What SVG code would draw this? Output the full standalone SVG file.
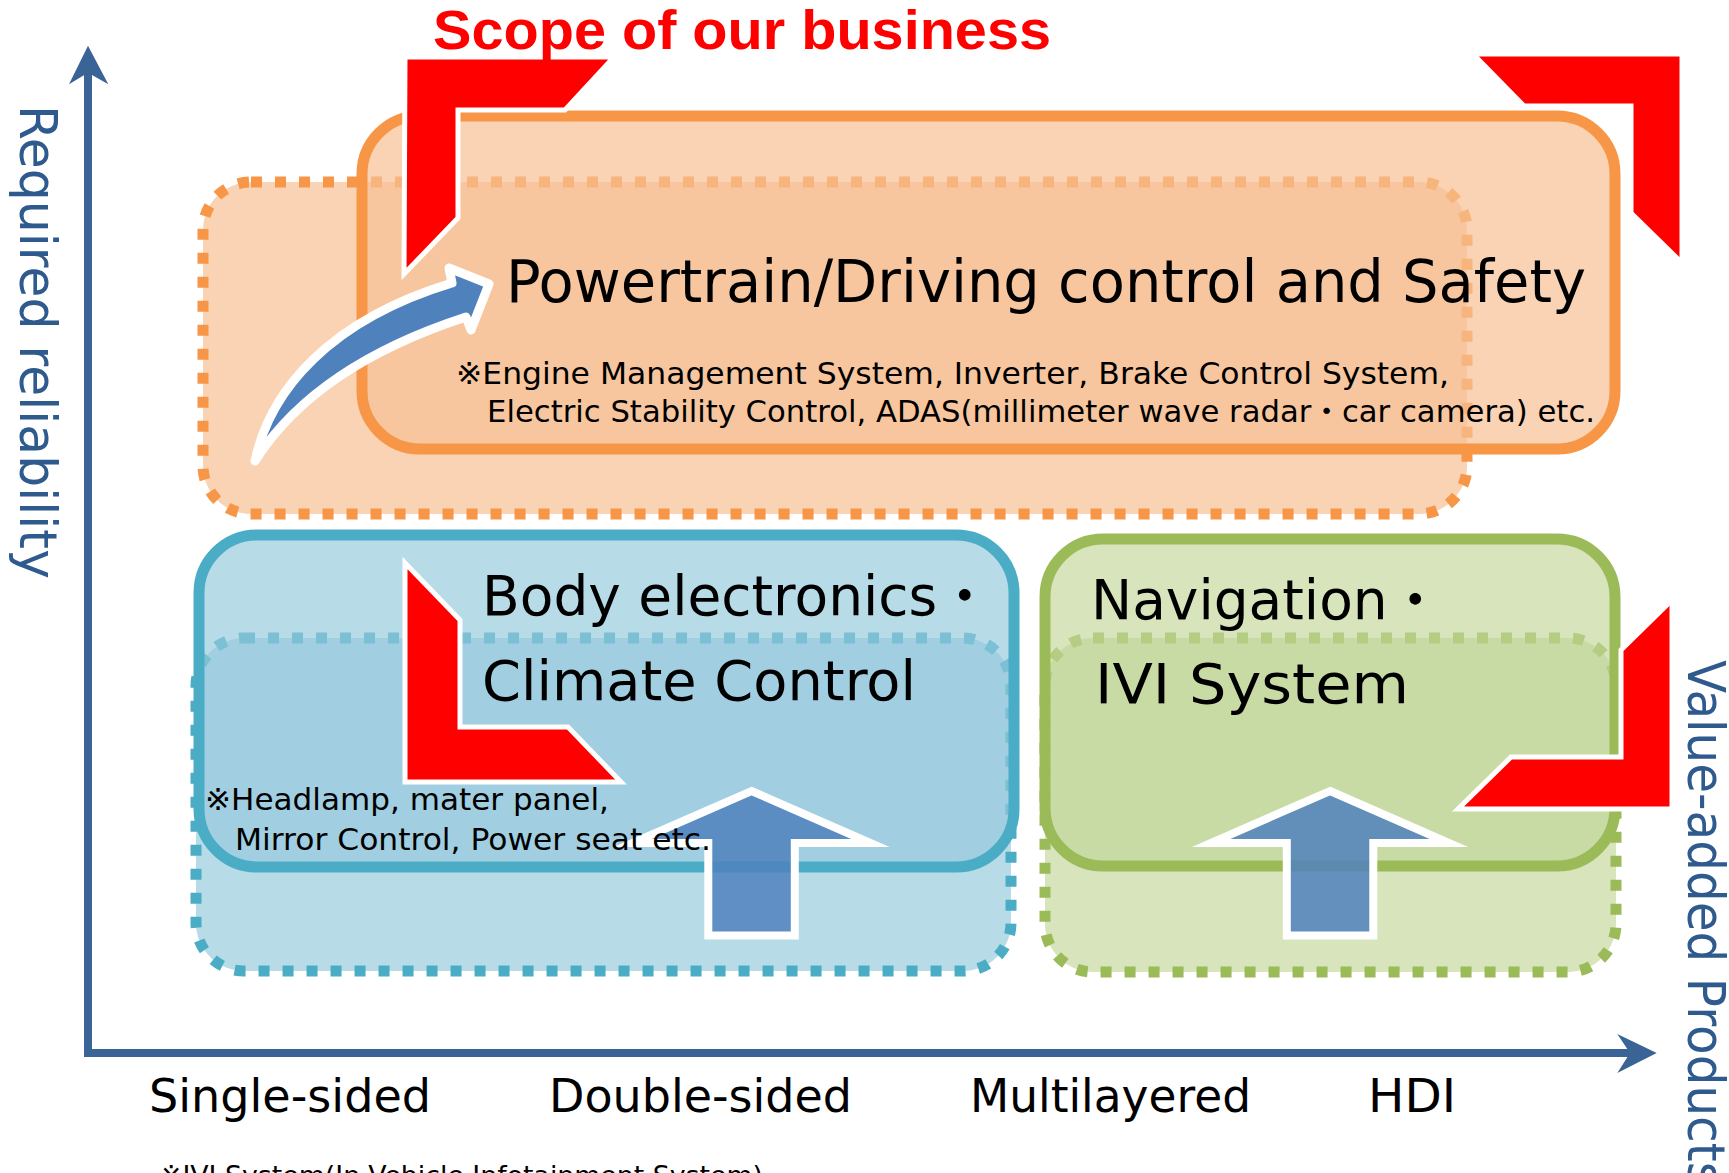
<svg xmlns="http://www.w3.org/2000/svg" width="1729" height="1173" viewBox="0 0 1729 1173">
<style>
.t{font-family:"DejaVu Sans","Noto Sans CJK JP",sans-serif;fill:#000}
.big{font-size:56px}
.bd{font-size:55px}
.pt{font-size:58px}
.note{font-size:30px}
.foot{font-size:27px}
.axl{font-size:47px}
.axt{font-size:51px;fill:#2E5A8E}
.title{font-family:"Liberation Sans","Noto Sans CJK JP",sans-serif;font-weight:bold;font-size:56px;fill:#FF0000}
.dot{stroke-width:11;stroke-dasharray:11 13}
.sol{stroke-width:11}
.or{stroke:#F79646;fill:rgb(247,193,148);fill-opacity:.7}
.bl{stroke:#4BACC6;fill:rgb(149,202,220);fill-opacity:.67}
.gr{stroke:#9BBB59;fill:rgb(194,214,154);fill-opacity:.66}
.br{fill:#FF0000;stroke:#FFFFFF;stroke-width:5}
.up{fill:#4F81BD;fill-opacity:.85;stroke:#FFFFFF;stroke-width:8;stroke-miterlimit:10}
.ax{stroke:#3A6496;fill:none;stroke-width:8}
.axh{fill:#3A6496}
</style>

<g id="node-powertrain-box">
<rect class="or dot" x="203" y="182" width="1264" height="332" rx="48"/>
<rect class="or sol" x="362" y="116" width="1253" height="333" rx="58"/>
</g>
<g id="node-body-box">
<rect class="bl dot" x="196" y="638" width="815" height="333" rx="48"/>
<rect class="bl sol" x="199" y="535" width="815" height="332" rx="58"/>
</g>
<g id="node-nav-box">
<rect class="gr dot" x="1045" y="638" width="571" height="334" rx="48"/>
<rect class="gr sol" x="1045" y="539" width="570" height="327" rx="58"/>
</g>

<g id="axes">
<path class="ax" d="M88 72 V1053 H1632"/>
<polygon class="axh" points="88,45.7 108.3,84.3 88,72.7 69,84.3"/>
<polygon class="axh" points="1656.7,1053 1617.3,1073 1630,1053 1617.3,1034"/>
<text class="t axt" transform="translate(20,105) rotate(90)" textLength="474" lengthAdjust="spacingAndGlyphs">Required reliability</text>
<text class="t axt" transform="translate(1688,660) rotate(90)" textLength="527" lengthAdjust="spacingAndGlyphs">Value-added Products</text>
<text class="t axl" x="149" y="1112" textLength="282" lengthAdjust="spacingAndGlyphs">Single-sided</text>
<text class="t axl" x="549" y="1112" textLength="303" lengthAdjust="spacingAndGlyphs">Double-sided</text>
<text class="t axl" x="970" y="1112" textLength="281" lengthAdjust="spacingAndGlyphs">Multilayered</text>
<text class="t axl" x="1368" y="1112" textLength="88" lengthAdjust="spacingAndGlyphs">HDI</text>
</g>

<g id="connectors">
<path d="M255,461 C270,390 330,320 452,283 L449,268 L489,284 L471,330 L466,317 C380,345 300,390 255,461 Z" fill="#4F81BD" stroke="#FFFFFF" stroke-width="9" stroke-linejoin="round"/>
<path class="up" d="M751.5,791 L870.5,843 L794.8,843 L794.8,935.5 L708.3,935.5 L708.3,843 L632.5,843 Z"/>
<path class="up" d="M1330,791 L1449,843 L1373.3,843 L1373.3,935.5 L1286.8,935.5 L1286.8,843 L1211,843 Z"/>
</g>

<g id="scope-brackets">
<path class="br" d="M405,57 L614,57 L565,110 L458,110 L458,218 L404,274 Z"/>
<path class="br" d="M1473,54 L1682,54 L1682,263 L1631,213 L1631,106 L1524,106 Z"/>
<path class="br" d="M405,563 L460,620 L460,727 L568,727 L621,782 L405,782 Z"/>
<path class="br" d="M1672,600 L1672,809 L1458,809 L1511,757 L1621,757 L1621,650 Z"/>
</g>

<g id="title">
<text class="title" x="433" y="49" textLength="618" lengthAdjust="spacingAndGlyphs">Scope of our business</text>
</g>

<g id="node-powertrain">
<text class="t pt" x="506" y="302" textLength="1080" lengthAdjust="spacingAndGlyphs">Powertrain/Driving control and Safety</text>
<text class="t note" x="456" y="384" textLength="993" lengthAdjust="spacingAndGlyphs">※Engine Management System, Inverter, Brake Control System,</text>
<text class="t note" x="487" y="422" textLength="1108" lengthAdjust="spacingAndGlyphs">Electric Stability Control, ADAS(millimeter wave radar・car camera) etc.</text>
</g>

<g id="node-body">
<text class="t bd" x="482" y="615">Body electronics・</text>
<text class="t big" x="482" y="700" textLength="434" lengthAdjust="spacingAndGlyphs">Climate Control</text>
<text class="t note" x="205" y="810" textLength="404" lengthAdjust="spacingAndGlyphs">※Headlamp, mater panel,</text>
<text class="t note" x="235" y="850" textLength="476" lengthAdjust="spacingAndGlyphs">Mirror Control, Power seat etc.</text>
</g>

<g id="node-navigation">
<text class="t bd" x="1091" y="619">Navigation・</text>
<text class="t big" x="1095" y="703" textLength="314" lengthAdjust="spacingAndGlyphs">IVI System</text>
</g>

<g id="footnote">
<text class="t foot" x="160" y="1185" textLength="603" lengthAdjust="spacingAndGlyphs">※IVI System(In-Vehicle Infotainment System)</text>
</g>
</svg>
